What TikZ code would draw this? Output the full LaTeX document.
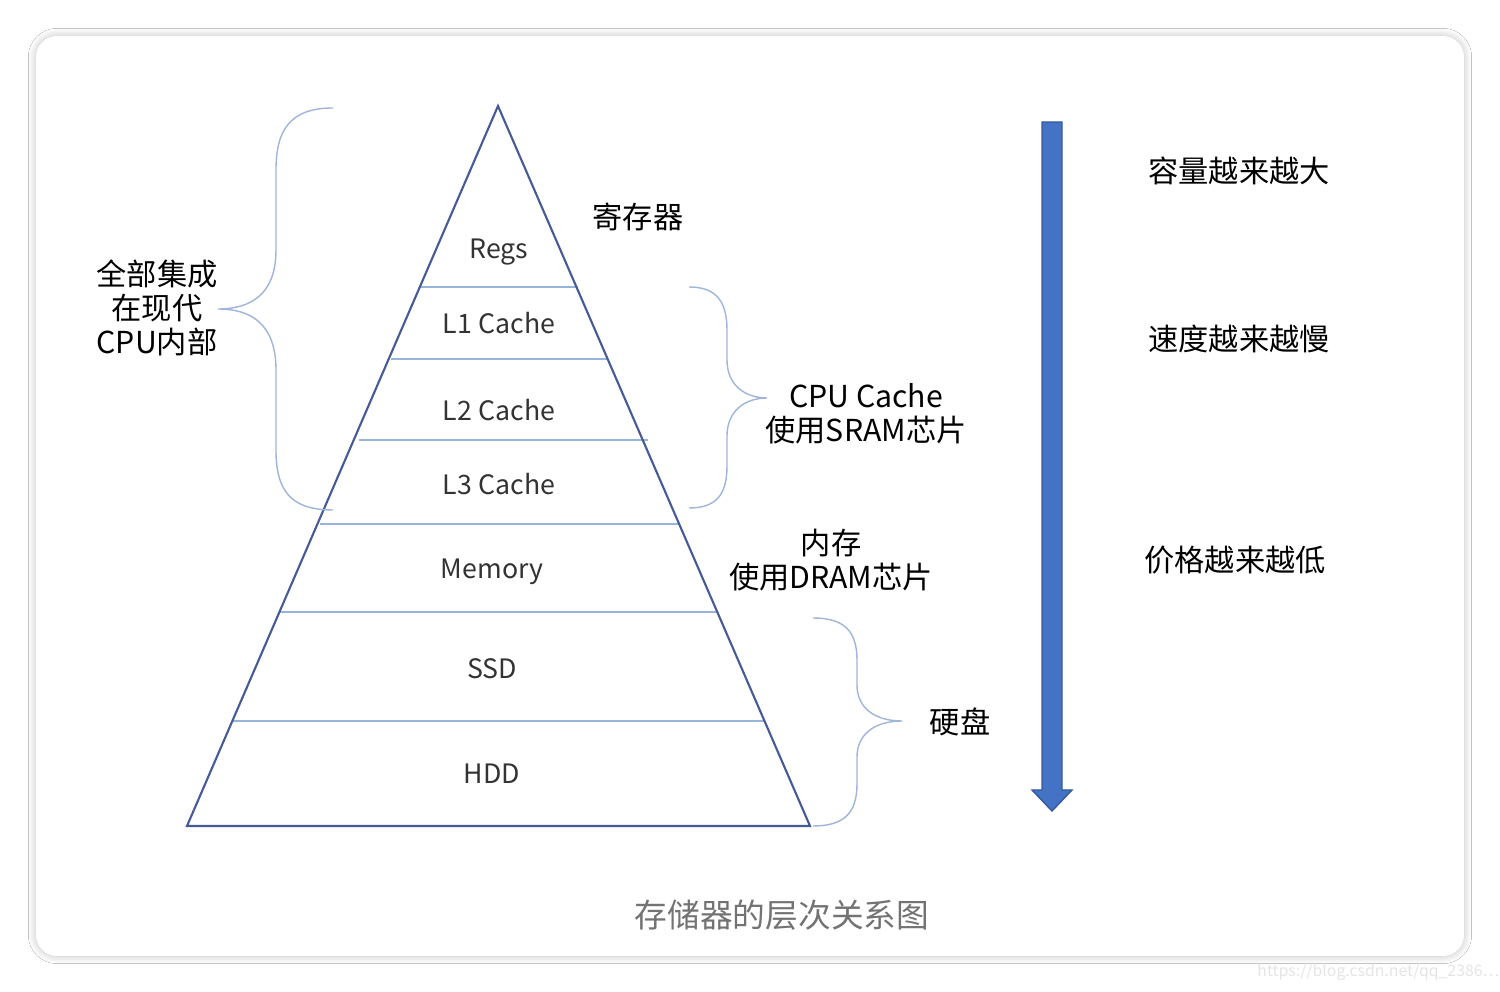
\documentclass[tikz,border=0pt]{standalone}
\usepackage{fontspec}
\setmainfont{Noto Sans CJK SC}
\usetikzlibrary{decorations.pathreplacing,shadows.blur}
\definecolor{arr}{RGB}{68,114,196}
\definecolor{outc}{RGB}{70,90,150}
\definecolor{innc}{RGB}{150,180,220}
\definecolor{brc}{RGB}{160,180,220}
\begin{document}
\begin{tikzpicture}[x=0.01cm,y=-0.01cm,
  lab/.style={text=black!80,font=\fontsize{7.6pt}{9pt}\selectfont},
  big/.style={text=black,font=\fontsize{8.6pt}{9.7pt}\selectfont,align=center},
  brace/.style={draw=brc,thin},
  inner/.style={draw=innc,line width=0.5pt},
  outl/.style={draw=outc,line width=0.6pt}]
\useasboundingbox (0,0) rectangle (1500,992);
\fill[white] (0,0) rectangle (1500,992);
\node[draw=none,fill=white,rounded corners=6pt,blur shadow={shadow blur steps=8,shadow xshift=0pt,shadow yshift=0pt,shadow blur extra rounding=4pt,shadow opacity=25},minimum width=1428*0.01cm,minimum height=920*0.01cm] (card) at (750,496) {};
% pyramid
\coordinate (ap) at (498,106);
\coordinate (bl) at (187,826);
\coordinate (br) at (810,826);
\draw[inner] (421,287)--(578,287);
\draw[inner] (391,359)--(608,359);
\draw[inner] (359,440)--(648,440);
\draw[inner] (320,524)--(680,524);
\draw[inner] (280,612)--(718,612);
\draw[inner] (233,721)--(765,721);
\draw[outl] (ap)--(bl)--(br)--cycle;
\node[lab] (r) at (499,252) {Regs};
\node[lab] (l1) at (499,323) {L1 Cache};
\node[lab] (l2) at (499,410) {L2 Cache};
\node[lab] (l3) at (499,484) {L3 Cache};
\node[lab] (m) at (492,572) {Memory};
\node[lab] (s) at (492,669) {SSD};
\node[lab] (h) at (492,774) {HDD};
% braces
\draw[brace] (333,108) .. controls (290,108) and (276,130) .. (276,170) -- (276,250)
  .. controls (276,295) and (250,309) .. (218,309)
  .. controls (250,309) and (276,323) .. (276,370) -- (276,450)
  .. controls (276,490) and (290,510) .. (333,510);
\draw[brace] (689,287) .. controls (715,287) and (727,300) .. (727,330) -- (727,360)
  .. controls (727,385) and (745,398) .. (767,398)
  .. controls (745,398) and (727,411) .. (727,436) -- (727,466)
  .. controls (727,496) and (715,508) .. (689,508);
\draw[brace] (813,618) .. controls (843,618) and (857,630) .. (857,660) -- (857,685)
  .. controls (857,708) and (875,721) .. (902,721)
  .. controls (875,721) and (857,734) .. (857,757) -- (857,784)
  .. controls (857,814) and (843,826) .. (813,826);
\node[big] (t1) at (157,308) {全部集成\\在现代\\CPU内部};
\node[big] (t2) at (638,217) {寄存器};
\node[big] (t3) at (866,414) {CPU Cache\\使用SRAM芯片};
\node[big] (t4) at (831,560) {内存\\使用DRAM芯片};
\node[big] (t5) at (960,722) {硬盘};
% arrow
\fill[fill=arr,draw=arr!80!black,line width=0.4pt]
 (1042,122)--(1062,122)--(1062,790)--(1072,790)--(1052,811)--(1032,790)--(1042,790)--cycle;
\node[big] (a1) at (1239,171) {容量越来越大};
\node[big] (a2) at (1239,339) {速度越来越慢};
\node[big] (a3) at (1235,560) {价格越来越低};
\node[text=black!55,font=\fontsize{9.3pt}{11pt}\selectfont] (cap) at (782,915) {存储器的层次关系图};
\node[text=black!10,font=\fontsize{4.5pt}{5pt}\selectfont,anchor=west] (wm) at (1245,972) {https://blog.csdn.net/qq\_2386…};
\end{tikzpicture}
\end{document}
